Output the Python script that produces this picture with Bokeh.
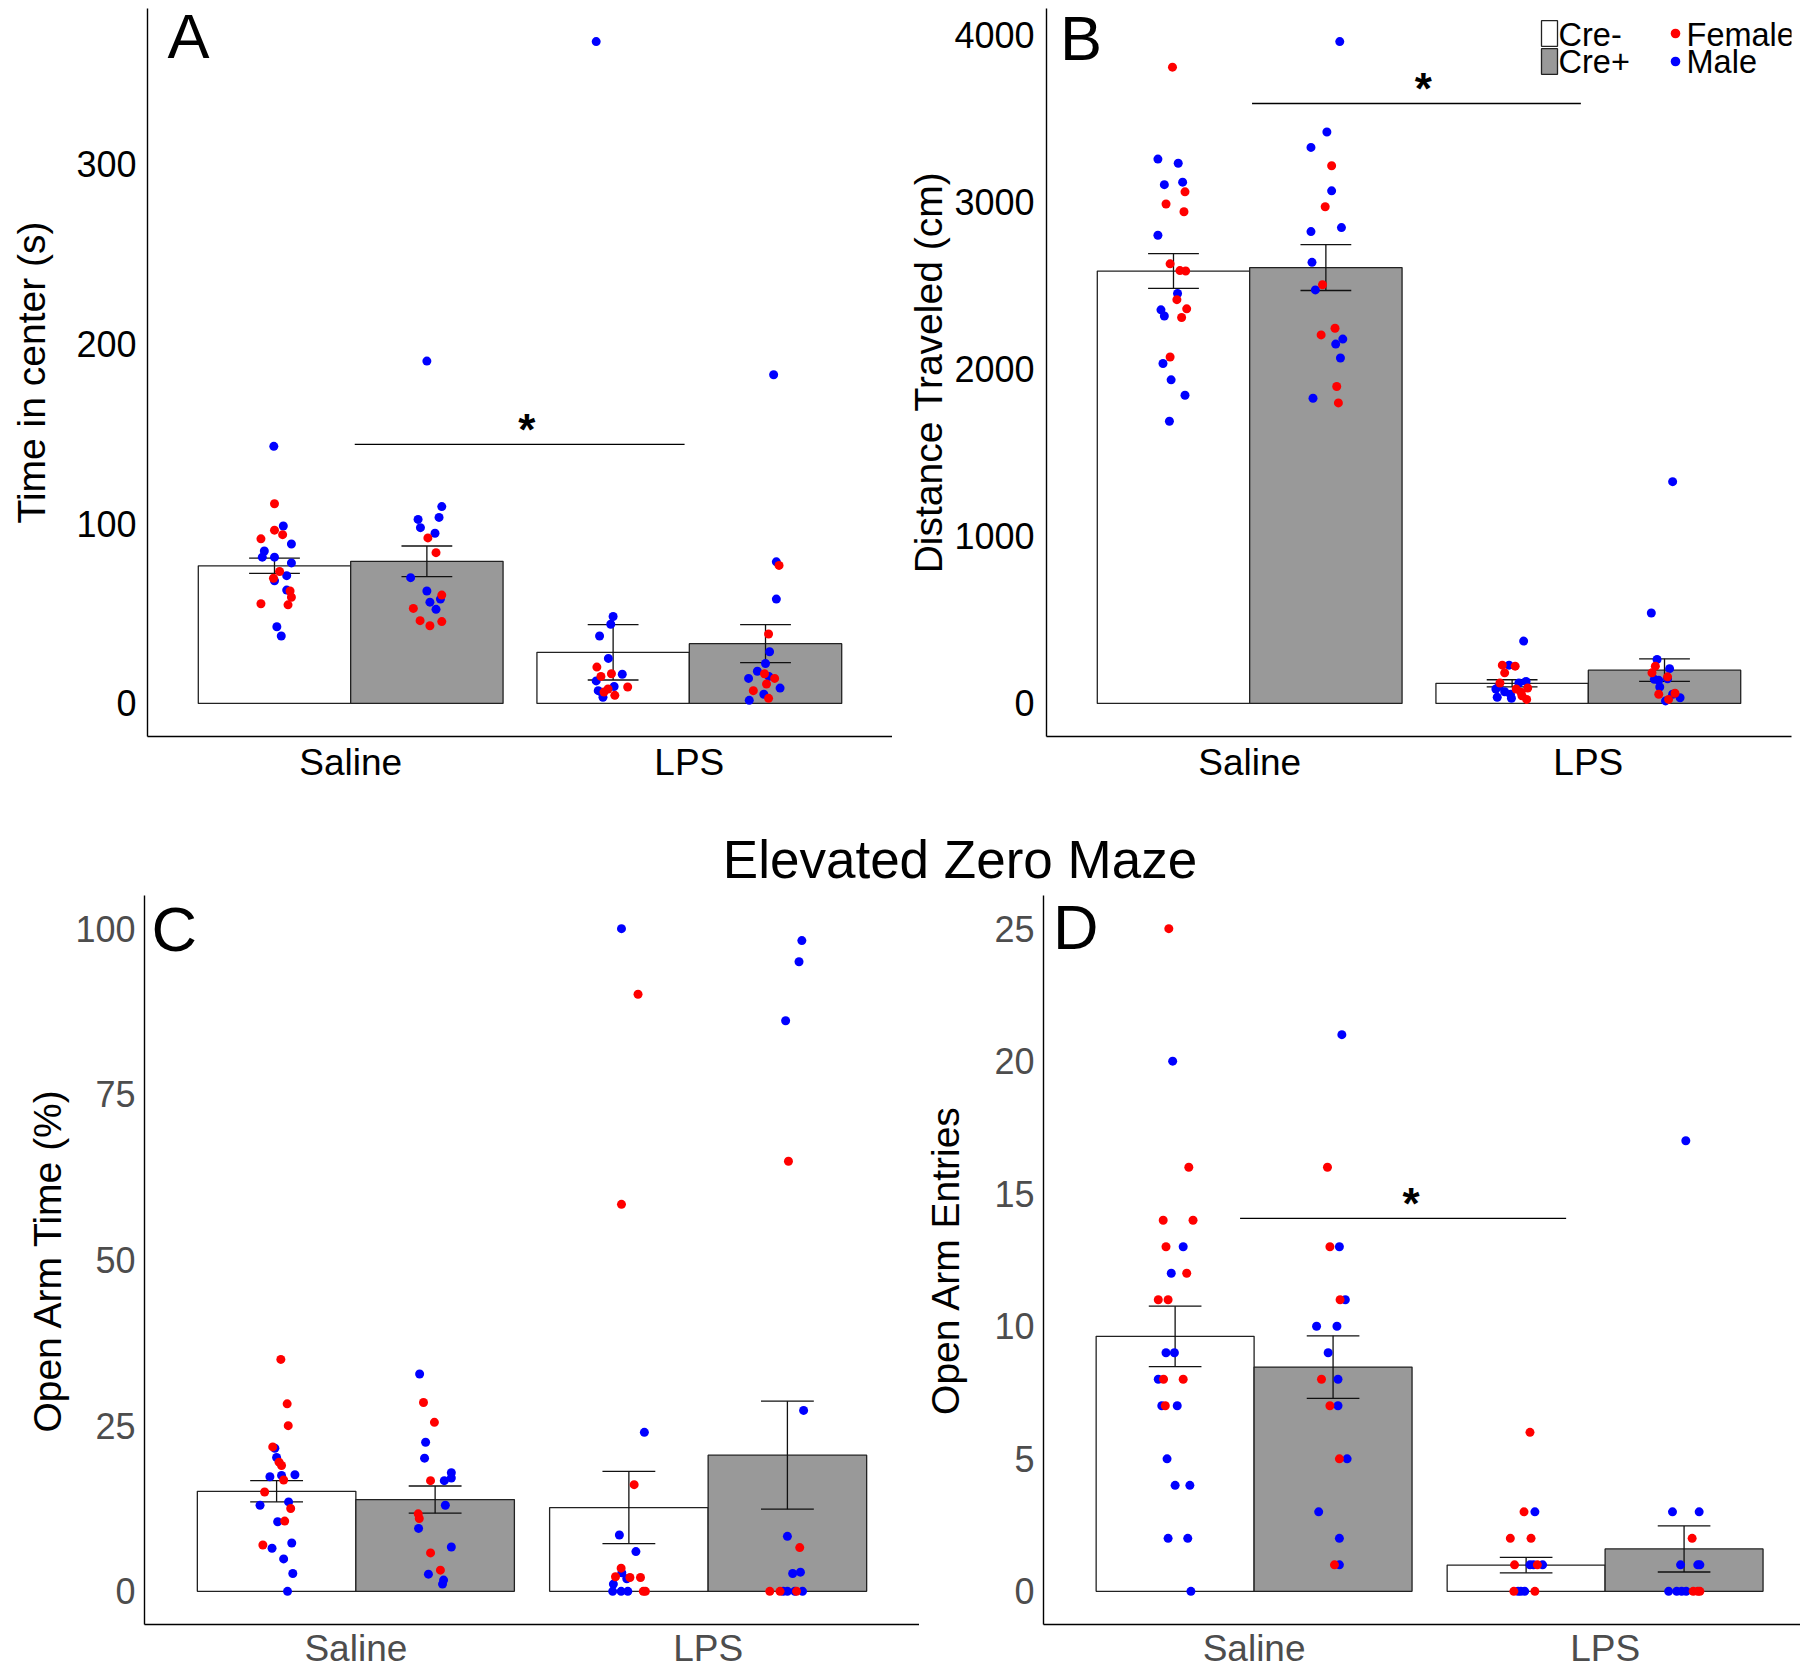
from bokeh.plotting import figure
from bokeh.models import Range1d, FixedTicker, Label, Legend, LegendItem, Div
from bokeh.layouts import row, column
from bokeh.embed import file_html
from bokeh.resources import INLINE

FONT = "Liberation Sans"
categories = ["Saline", "LPS"]
genotypes = ["Cre-", "Cre+"]
sexes = ["Female", "Male"]
maze_title = "Elevated Zero Maze"
# group order: Saline Cre-, Saline Cre+, LPS Cre-, LPS Cre+

# ---------------- A: Time in center (s) ----------------
a_means = [76.5, 79.0, 28.4, 33.2]
a_sems = [4.25, 8.5, 15.4, 10.55]
a_female = [[111, 96.3, 93.8, 91.5, 73.3, 69.6, 62.5, 59, 55.4, 54.8],
            [92, 83.8, 60.2, 52.8, 46, 45.5, 43.2],
            [20.2, 16.5, 15, 9.1, 8, 6.3, 4.5],
            [76.7, 38.6, 16.5, 13.9, 10.8, 7.1, 2.8]]
a_female_jit = [[0, 0, 0.024, -0.04, 0.015, -0.003, 0.046, 0.05, -0.04, 0.04],
                [0.003, 0.027, 0.044, -0.04, -0.02, 0.044, 0.009],
                [-0.048, -0.005, -0.036, 0.043, -0.015, -0.027, 0.005],
                [0.04, 0.009, -0.003, 0.027, 0.003, -0.036, 0.009]]
a_male = [[142.9, 98.6, 88.6, 84.7, 81.3, 81.3, 78.1, 71, 68.2, 63, 42.6, 37.5],
          [190.3, 109.4, 103.4, 102.3, 97.7, 94.6, 69.9, 62.5, 58, 56.3, 52.3],
          [367.9, 48.3, 44, 37.5, 25, 16.2, 12.5, 9.4, 7.1, 5.7, 3.4],
          [182.7, 78.7, 58, 28.7, 22.2, 17.9, 15, 13.9, 8.5, 5.1, 1.7]]
a_male_jit = [[-0.002, 0.026, 0.05, -0.03, -0.036, 0, 0.05, 0.036, 0, 0.036, 0.007, 0.02],
              [0, 0.044, 0.036, -0.026, -0.019, 0.024, -0.048, 0, 0.04, 0.009, 0.027],
              [-0.05, 0, -0.007, -0.04, -0.014, 0.027, -0.05, 0.003, -0.044, -0.032, -0.03],
              [0.024, 0.032, 0.032, 0.012, 0, -0.024, 0.01, -0.05, 0.043, -0.005, -0.048]]
a_ticks = [0, 100, 200, 300]

# ---------------- B: Distance Traveled (cm) ----------------
b_means = [2587, 2608, 120, 199]
b_sems = [104, 137.5, 21.5, 67.5]
b_female = [[3807, 3061, 2988, 2942, 2630, 2590, 2587, 2416, 2361, 2309, 2073],
            [3217, 2972, 2505, 2245, 2205, 1896, 1798],
            [229, 223, 183, 122, 86, 67, 92, 24, 46],
            [223, 183, 159, 55, 61, 24]]
b_female_jit = [[-0.003, 0.034, -0.022, 0.031, -0.01, 0.019, 0.036, 0.01, 0.039, 0.024, -0.01],
                [0.017, -0.002, -0.01, 0.027, -0.014, 0.032, 0.037],
                [-0.029, 0.009, -0.022, -0.036, 0.012, 0.026, 0.046, 0.043, 0.029],
                [-0.027, -0.037, 0.009, -0.017, 0.031, 0.012]]
b_male = [[3257, 3232, 3104, 3119, 2801, 2453, 2355, 2318, 2034, 1936, 1844, 1688],
          [3960, 3419, 3327, 3067, 2847, 2823, 2639, 2474, 2180, 2150, 2067, 1826],
          [373, 229, 131, 101, 70, 37, 31, 86, 122, 55],
          [1327, 541, 263, 208, 144, 138, 147, 98, 55, 34, 15]]
b_male_jit = [[-0.046, 0.014, -0.027, 0.027, -0.046, 0.012, -0.037, -0.027, -0.031, -0.007, 0.034, -0.012],
              [0.041, 0.003, -0.044, 0.017, 0.046, -0.044, -0.041, -0.031, 0.05, 0.029, 0.043, -0.038],
              [0.034, -0.009, 0.041, -0.039, -0.022, -0.044, -0.002, -0.048, 0.02, -0.005],
              [0.024, -0.039, -0.022, 0.015, -0.03, -0.017, 0.009, -0.014, 0.024, 0.046, 0.003]]
b_ticks = [0, 1000, 2000, 3000, 4000]

# ---------------- C: Open Arm Time (%) ----------------
c_means = [15.1, 13.85, 12.65, 20.55]
c_sems = [1.6, 2.05, 5.45, 8.15]
c_female = [[35.0, 28.3, 25.0, 21.8, 19.5, 19.0, 16.8, 15.0, 12.5, 10.6, 7.0],
            [28.5, 25.5, 16.7, 11.7, 11.0, 5.8, 3.2],
            [90.1, 58.4, 16.1, 3.5, 2.2, 2.1, 2.1, 0, 0],
            [64.9, 6.6, 0, 0, 0]]
c_female_jit = [[0.012, 0.03, 0.033, -0.011, 0.007, 0.014, 0.02, -0.034, 0.04, 0.023, -0.039],
                [-0.033, -0.002, -0.013, -0.048, -0.045, -0.013, 0.015],
                [0.026, -0.021, 0.015, -0.022, -0.038, 0.003, 0.033, 0.041, 0.047],
                [0.003, 0.035, -0.05, -0.021, 0.026]]
c_male = [[21.6, 20.2, 17.6, 17.5, 17.3, 13.5, 13.0, 10.5, 6.5, 7.3, 4.9, 2.7, 0.0],
          [32.8, 22.5, 20.1, 17.9, 17.1, 16.7, 13.0, 9.5, 6.7, 2.6, 1.7, 1.1],
          [100, 24.0, 8.5, 6.0, 2.8, 1.9, 1.1, 0, 0, 0],
          [98.2, 95.0, 86.1, 27.3, 8.3, 2.7, 2.9, 0, 0, 0, 0]]
c_male_jit = [[-0.005, 0, 0.052, 0.014, -0.019, 0.034, -0.047, 0.003, -0.013, 0.043, 0.02, 0.046, 0.031],
              [-0.044, -0.027, -0.03, 0.046, 0.046, 0.026, 0.029, -0.047, 0.046, -0.019, 0.024, 0.021],
              [-0.021, 0.044, -0.027, 0.02, -0.02, -0.006, -0.044, -0.046, -0.022, -0.003],
              [0.041, 0.033, -0.005, 0.046, 0, 0.015, 0.037, -0.012, 0, 0.021, 0.043]]
c_ticks = [0, 25, 50, 75, 100]

# ---------------- D: Open Arm Entries ----------------
d_means = [9.62, 8.46, 0.99, 1.6]
d_sems = [1.14, 1.18, 0.29, 0.87]
d_female = [[25, 16, 14, 14, 13, 12, 11, 11, 8, 8, 7],
            [16, 13, 11, 8, 7, 5, 1],
            [6, 3, 2, 2, 1, 1, 0, 0],
            [2, 0, 0, 0]]
d_female_jit = [[-0.018, 0.039, -0.034, 0.051, -0.026, 0.033, -0.048, -0.02, -0.033, 0.023, -0.028],
                [-0.016, -0.009, 0.02, -0.033, -0.009, 0.018, 0.004],
                [0.011, -0.006, -0.045, 0.014, -0.033, 0.032, -0.035, 0.025],
                [0.023, 0.026, 0.039, 0.045]]
d_male = [[20, 13, 12, 9, 9, 8, 7, 7, 5, 4, 4, 2, 2, 0],
          [21, 13, 11, 10, 10, 9, 8, 7, 5, 3, 2, 1],
          [3, 1, 1, 1, 0, 0, 0],
          [17, 3, 3, 1, 1, 1, 0, 0, 0, 0]]
d_male_jit = [[-0.007, 0.023, -0.011, -0.026, -0.002, -0.048, -0.038, 0.006, -0.023, 0, 0.042, -0.02, 0.036, 0.045],
              [0.025, 0.018, 0.035, -0.047, 0.011, -0.014, 0.014, 0.014, 0.04, -0.041, 0.018, 0.018],
              [0.025, 0.011, 0.021, 0.047, -0.023, -0.015, -0.004],
              [0.005, -0.033, 0.043, -0.01, 0.039, 0.045, -0.044, -0.021, -0.007, 0.006]]
d_ticks = [0, 5, 10, 15, 20, 25]

RED = "#FF0000"
BLUE = "#0000FF"
GREY = "#999999"


def make_panel(letter, ylabel, ticks, means, sems, fem, fem_jit, male, male_jit,
               frame_w, frame_h, borders, x_end, tick_color, ytick_standoff,
               ylabel_standoff, xtick_size, xtick_standoff, letter_pos, sig=None):
    allv = [v for g in fem + male for v in g] + [m + s for m, s in zip(means, sems)]
    ymax = max(allv)
    p = figure(frame_width=frame_w, frame_height=frame_h,
               x_range=Range1d(0.4, x_end), y_range=Range1d(-0.05 * ymax, 1.05 * ymax),
               output_backend="svg", toolbar_location=None,
               min_border_left=borders[0], min_border_right=borders[1],
               min_border_top=borders[2], min_border_bottom=borders[3])
    p.outline_line_color = None
    p.xgrid.visible = False
    p.ygrid.visible = False
    p.background_fill_color = "white"
    p.border_fill_color = "white"

    centers = [c + d for c in (1, 2) for d in (-0.225, 0.225)]
    # bars
    r_minus = p.vbar(x=[centers[0], centers[2]], top=[means[0], means[2]], bottom=0, width=0.45,
                     fill_color="white", line_color="#222222", line_width=1.3)
    r_plus = p.vbar(x=[centers[1], centers[3]], top=[means[1], means[3]], bottom=0, width=0.45,
                    fill_color=GREY, line_color="#222222", line_width=1.3)
    # error bars
    lo = [m - s for m, s in zip(means, sems)]
    hi = [m + s for m, s in zip(means, sems)]
    p.segment(x0=centers, y0=lo, x1=centers, y1=hi, line_color="#111111", line_width=1.3)
    cap = 0.075
    p.segment(x0=[c - cap for c in centers], y0=hi, x1=[c + cap for c in centers], y1=hi,
              line_color="#111111", line_width=1.3)
    p.segment(x0=[c - cap for c in centers], y0=lo, x1=[c + cap for c in centers], y1=lo,
              line_color="#111111", line_width=1.3)
    # points
    mx, my, fx, fy = [], [], [], []
    for g in range(4):
        mx += [centers[g] + j for j in male_jit[g]]
        my += male[g]
        fx += [centers[g] + j for j in fem_jit[g]]
        fy += fem[g]
    r_m = p.scatter(x=mx, y=my, size=9, fill_color=BLUE, line_color=None)
    r_f = p.scatter(x=fx, y=fy, size=9, fill_color=RED, line_color=None)

    if sig is not None:
        x0, x1, ys, sx, sy = sig
        p.segment(x0=[x0], y0=[ys], x1=[x1], y1=[ys], line_color="black", line_width=1.4)
        p.add_layout(Label(x=sx, y=sy, text="*", text_font=FONT, text_font_size="44px",
                           text_font_style="bold",
                           text_align="center", text_baseline="alphabetic", text_color="black"))

    p.add_layout(Label(x=letter_pos[0], y=letter_pos[1], text=letter, text_font=FONT,
                       text_font_size="63px", text_align="left", text_baseline="alphabetic",
                       text_color="black"))

    # axes
    p.xaxis.ticker = FixedTicker(ticks=[1, 2])
    p.xaxis.major_label_overrides = {1: categories[0], 2: categories[1]}
    p.yaxis.ticker = FixedTicker(ticks=ticks)
    for ax in (p.xaxis, p.yaxis):
        ax.axis_line_color = "black"
        ax.axis_line_width = 1.4
        ax.major_tick_line_color = None
        ax.minor_tick_line_color = None
        ax.major_tick_out = 0
        ax.major_tick_in = 0
        ax.major_label_text_font = FONT
        ax.major_label_text_color = tick_color
    p.yaxis.major_label_text_font_size = "36px"
    p.yaxis.major_label_standoff = ytick_standoff
    p.xaxis.major_label_text_font_size = xtick_size
    p.xaxis.major_label_standoff = xtick_standoff
    p.yaxis.axis_label = ylabel
    p.yaxis.axis_label_text_font = FONT
    p.yaxis.axis_label_text_font_size = "39px"
    p.yaxis.axis_label_text_font_style = "normal"
    p.yaxis.axis_label_text_color = "black"
    p.yaxis.axis_label_standoff = ylabel_standoff
    return p, r_minus, r_plus, r_f, r_m


pA, _, _, _, _ = make_panel("A", "Time in center (s)", a_ticks, a_means, a_sems,
                            a_female, a_female_jit, a_male, a_male_jit,
                            745, 728, (147, 0, 8, 59), 2.6, "black", 11, 20, "37px", 5,
                            (0.459, 370.8), sig=(1.012, 1.986, 144, 1.52, 152))
pB, rb_minus, rb_plus, rb_f, rb_m = make_panel(
    "B", "Distance Traveled (cm)", b_ticks, b_means, b_sems,
    b_female, b_female_jit, b_male, b_male_jit,
    745, 728, (154, 8, 8, 59), 2.6, "black", 12, 1, "37px", 5,
    (0.44, 3979), sig=(1.007, 1.978, 3590, 1.513, 3677))
pC, _, _, _, _ = make_panel("C", "Open Arm Time (%)", c_ticks, c_means, c_sems,
                            c_female, c_female_jit, c_male, c_male_jit,
                            775, 729, (144, 0, 5, 50), 2.6, "#4D4D4D", 9, 3, "37px", 3,
                            (0.42, 99.9))
pD, _, _, _, _ = make_panel("D", "Open Arm Entries", d_ticks, d_means, d_sems,
                            d_female, d_female_jit, d_male, d_male_jit,
                            757, 729, (124, 0, 5, 50), 0.4 + 757 / 351.0, "#4D4D4D", 9, 24, "37px", 3,
                            (0.427, 25.06), sig=(0.96, 1.889, 14.07, 1.447, 14.62))

# legend (glyphs via Bokeh legends, texts as labels)
def glyph_legend(items, loc, gw, gh):
    lg = Legend(items=items, location=loc, orientation="vertical", glyph_width=gw, glyph_height=gh,
                spacing=2, padding=0, margin=0, label_standoff=0, label_width=0, label_height=0,
                label_text_font_size="1px", border_line_color=None, background_fill_alpha=0)
    pB.add_layout(lg)

glyph_legend([LegendItem(label=" ", renderers=[rb_minus])], (493, 687), 20, 32)
glyph_legend([LegendItem(label=" ", renderers=[rb_plus])], (493, 659), 20, 32)
glyph_legend([LegendItem(label=" ", renderers=[rb_f]), LegendItem(label=" ", renderers=[rb_m])],
             (617, 662), 24, 26)
for txt, lx, ly in [(genotypes[0], 1.912, 4002), (genotypes[1], 1.912, 3835),
                    (sexes[0], 2.290, 4002), (sexes[1], 2.290, 3835)]:
    pB.add_layout(Label(x=lx, y=ly, text=txt, text_font=FONT, text_font_size="32.5px",
                        text_align="left", text_baseline="alphabetic", text_color="black"))

title_div = Div(text=('<div style="margin-left:128px;width:1664px;text-align:center;padding-top:35px;'
                      'font-family:\'Liberation Sans\';font-size:53px;line-height:60px;color:black;">'
                      + maze_title + '</div>'),
                width=1799, height=95, margin=(0, 0, 0, 0))

layout = column(row(pA, pB), title_div, row(pC, pD))
open("out.html", "w").write(file_html(layout, INLINE))
